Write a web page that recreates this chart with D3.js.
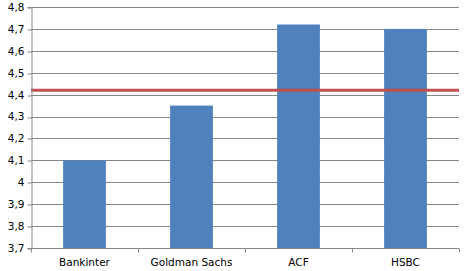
<!DOCTYPE html>
<html>
<head>
<meta charset="utf-8">
<script src="https://d3js.org/d3.v7.min.js"></script>
<style>
  body { margin: 0; background: #fff; }
  text { font-family: "DejaVu Sans", sans-serif; font-size: 10.5px; fill: #000; }
</style>
</head>
<body>
<div id="chart"></div>
<script>
// chart values
var categories = ["Bankinter", "Goldman Sachs", "ACF", "HSBC"];
var values = [4.1, 4.35, 4.72, 4.70];
var average = 4.42;
var yTicks = [3.7, 3.8, 3.9, 4, 4.1, 4.2, 4.3, 4.4, 4.5, 4.6, 4.7, 4.8];

var margin = {top: 7, right: 7, bottom: 23, left: 31},
    width = 466 - margin.left - margin.right,
    height = 271 - margin.top - margin.bottom;

var svg = d3.select("#chart")
  .append("svg")
    .attr("width", 466)
    .attr("height", 271)
  .append("g")
    .attr("transform", "translate(" + margin.left + "," + margin.top + ")");

var x = d3.scaleBand()
    .domain(categories)
    .range([0, width])
    .paddingInner(0.6)
    .paddingOuter(0.3);

var y = d3.scaleLinear()
    .domain([3.7, 4.8])
    .range([height, 0]);

var fmt = function(d) { return String(d).replace(".", ","); };

// gridlines
svg.append("g")
  .selectAll("line")
  .data(yTicks.slice(1))
  .enter()
  .append("line")
    .attr("x1", 0)
    .attr("x2", width)
    .attr("y1", d => Math.round(y(d)) + 0.5)
    .attr("y2", d => Math.round(y(d)) + 0.5)
    .attr("stroke", "#868686");

// bars
svg.append("g")
  .selectAll("rect")
  .data(values)
  .enter()
  .append("rect")
    .attr("x", (d, i) => x(categories[i]))
    .attr("width", x.bandwidth())
    .attr("y", d => y(d))
    .attr("height", d => height - y(d))
    .attr("fill", "#4F81BD");

// average line
svg.append("line")
    .attr("x1", 0)
    .attr("x2", width)
    .attr("y1", y(average))
    .attr("y2", y(average))
    .attr("stroke", "#C0504D")
    .attr("stroke-width", 3);

// y axis
var yAxis = svg.append("g")
    .attr("transform", "translate(0.5,0)")
    .call(d3.axisLeft(y).tickValues(yTicks).tickFormat(fmt).tickSizeOuter(0).tickSize(4).tickPadding(3));
yAxis.select(".domain").attr("stroke", "#868686");
yAxis.selectAll(".tick line").attr("stroke", "#868686")
    .attr("transform", d => "translate(0," + (Math.round(y(d)) + 0.5 - y(d)) + ")");
yAxis.selectAll(".tick text").style("font-family", "DejaVu Sans").style("font-size", "10.5px");

// x axis
var step = x.step();
var xAxis = svg.append("g")
    .attr("transform", "translate(0," + (Math.round(height) + 0.5) + ")");
xAxis.append("line")
    .attr("x1", 0).attr("x2", width)
    .attr("stroke", "#868686");
xAxis.selectAll(".xtick")
  .data(d3.range(categories.length + 1))
  .enter()
  .append("line")
    .attr("x1", i => Math.round(i * width / categories.length) + 0.5)
    .attr("x2", i => Math.round(i * width / categories.length) + 0.5)
    .attr("y1", 0).attr("y2", 4)
    .attr("stroke", "#868686");
xAxis.selectAll(".xlabel")
  .data(categories)
  .enter()
  .append("text")
    .attr("x", d => x(d) + x.bandwidth() / 2)
    .attr("y", 17)
    .attr("text-anchor", "middle")
    .text(d => d);
</script>
</body>
</html>
